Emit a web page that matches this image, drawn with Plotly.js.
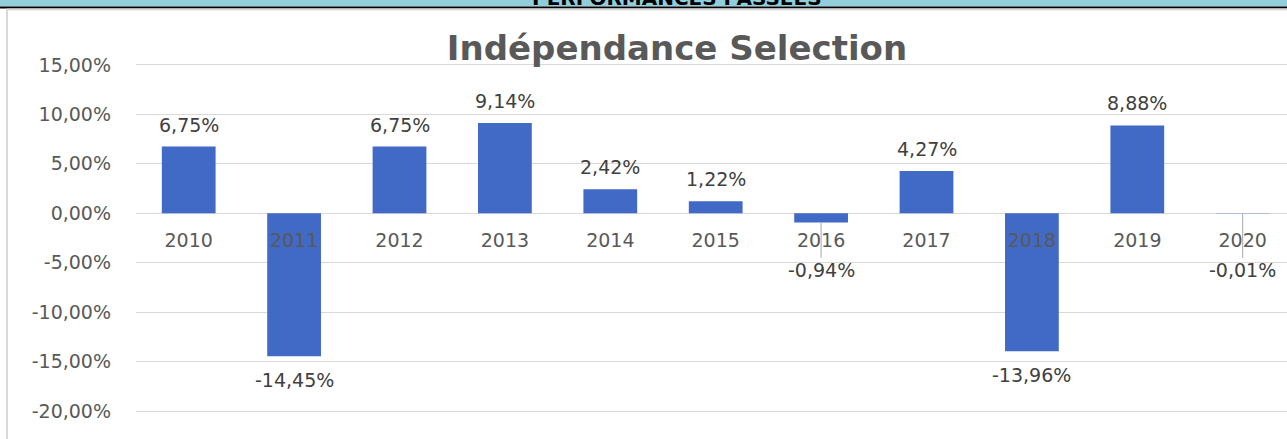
<!DOCTYPE html>
<html>
<head>
<meta charset="utf-8">
<script src="https://cdn.plot.ly/plotly-3.0.1.min.js"></script>
<style>
  html, body { margin: 0; padding: 0; background: #ffffff; overflow: hidden; }
  #chart { width: 1287px; height: 439px; }
</style>
</head>
<body>
<div id="chart"></div>
<script>
// ---- Data ----
const years = ["2010", "2011", "2012", "2013", "2014", "2015", "2016", "2017", "2018", "2019", "2020"];
const performances = [6.75, -14.45, 6.75, 9.14, 2.42, 1.22, -0.94, 4.27, -13.96, 8.88, -0.01];
const yTickValues = [15, 10, 5, 0, -5, -10, -15, -20];
const yTickLabels = ["15,00%", "10,00%", "5,00%", "0,00%", "-5,00%", "-10,00%", "-15,00%", "-20,00%"];
const chartTitle = "Indépendance Selection";
const bannerTitle = "PERFORMANCES PASSEES";

// ---- Geometry ----
const W = 1287, H = 439;
const M = { l: 136, r: 0, t: 62, b: 25 };
const PW = W - M.l - M.r, PH = H - M.t - M.b;
const yRange = [-20.3, 15.3];
const pxPerUnit = PH / (yRange[1] - yRange[0]);
const px2paperX = px => (px - M.l) / PW;
const py2paperY = py => (H - M.b - py) / PH;
const zeroPaper = (0 - yRange[0]) / (yRange[1] - yRange[0]);

function fmt(v) {
  return v.toFixed(2).replace(".", ",") + "%";
}

const labelFont = { family: "DejaVu Sans", size: 19, color: "#404040" };

// ---- Data labels ----
const annotations = performances.map((v, i) => {
  const base = { x: i, y: v, xref: "x", yref: "y", text: fmt(v),
                 font: Object.assign({}, labelFont) };
  if (v >= 0) {
    return Object.assign(base, { showarrow: false, yanchor: "bottom", yshift: 9 });
  }
  if (v > -2) {
    // small negative: label pushed below the category label with a leader line
    return Object.assign(base, { showarrow: true, arrowhead: 0, arrowwidth: 1,
             arrowcolor: "#A6A6A6", standoff: 0, axref: "pixel", ayref: "pixel",
             ax: 0, ay: 57 - Math.abs(v) * pxPerUnit });
  }
  return Object.assign(base, { showarrow: false, yanchor: "top", yshift: -11 });
});

// Banner text (cut off at the top)
annotations.push({
  xref: "paper", yref: "paper", x: px2paperX(677), y: py2paperY(12),
  xanchor: "center", yanchor: "bottom", showarrow: false, text: "<b>" + bannerTitle + "</b>",
  font: { family: "DejaVu Sans", size: 20, color: "#000000" }
});

// ---- Decorations (banner band, frame) ----
const shapes = [
  { type: "rect", xref: "paper", yref: "paper", x0: px2paperX(-5), x1: px2paperX(W + 5),
    y0: py2paperY(6.5), y1: py2paperY(-5), fillcolor: "#92CDDC", line: { width: 0 }, layer: "below" },
  { type: "rect", xref: "paper", yref: "paper", x0: px2paperX(-5), x1: px2paperX(W + 5),
    y0: py2paperY(8.5), y1: py2paperY(6.5), fillcolor: "#000000", line: { width: 0 }, layer: "below" },
  { type: "line", xref: "paper", yref: "paper", x0: px2paperX(6.5), x1: px2paperX(W + 5),
    y0: py2paperY(9.5), y1: py2paperY(9.5), line: { color: "#D9D9D9", width: 2 }, layer: "below" },
  { type: "line", xref: "paper", yref: "paper", x0: px2paperX(7), x1: px2paperX(7),
    y0: py2paperY(9.5), y1: py2paperY(H + 5), line: { color: "#D9D9D9", width: 2 }, layer: "below" }
];

const trace = {
  type: "bar",
  x: years,
  y: performances,
  marker: { color: "#4169C6", line: { width: 0 } },
  hoverinfo: "x+y"
};

const layout = {
  width: W, height: H,
  margin: M,
  paper_bgcolor: "#ffffff",
  plot_bgcolor: "#ffffff",
  showlegend: false,
  bargap: 0.49,
  title: {
    text: "<b>" + chartTitle + "</b>",
    x: 677 / W, xref: "container", xanchor: "center",
    y: 1 - 48 / H, yref: "container", yanchor: "middle",
    font: { family: "DejaVu Sans", size: 34, color: "#595959" }
  },
  xaxis: {
    type: "category",
    range: [-0.5, -0.5 + PW / 105.4],
    anchor: "free",
    position: zeroPaper,
    showline: false,
    showgrid: false,
    zeroline: false,
    ticks: "",
    ticklabelstandoff: 14,
    tickfont: { family: "DejaVu Sans", size: 19, color: "#595959" },
    fixedrange: true
  },
  yaxis: {
    range: yRange,
    tickvals: yTickValues,
    ticktext: yTickLabels,
    showgrid: true,
    gridcolor: "#D9D9D9",
    gridwidth: 1,
    zeroline: true,
    zerolinecolor: "#D9D9D9",
    zerolinewidth: 1,
    showline: false,
    ticks: "",
    ticklabelstandoff: 24,
    tickfont: { family: "DejaVu Sans", size: 19, color: "#595959" },
    fixedrange: true
  },
  annotations: annotations,
  shapes: shapes
};

Plotly.newPlot("chart", [trace], layout, { displayModeBar: false, staticPlot: true });
</script>
</body>
</html>
